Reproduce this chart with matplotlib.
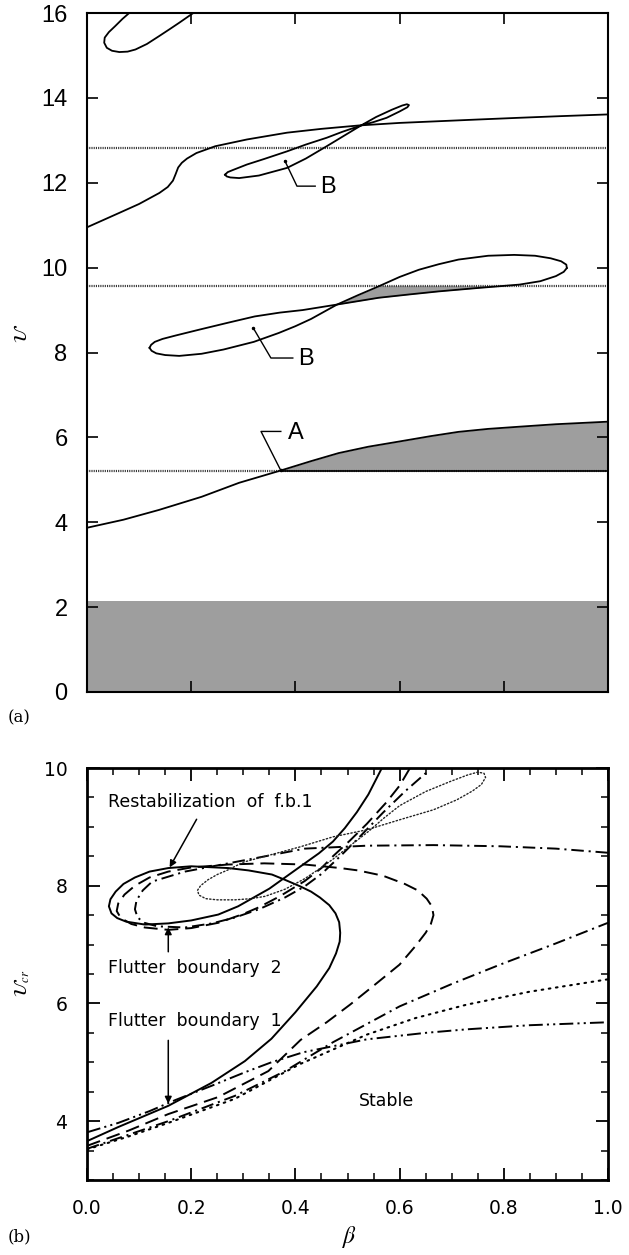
import numpy as np
import matplotlib
matplotlib.use("Agg")
import matplotlib.pyplot as plt

plt.rcParams['lines.scale_dashes'] = False
plt.rcParams['mathtext.fontset'] = 'stix'

# ---------------- panel (a) data ----------------
# top-left closed loop
loop_top_x = [0.081, 0.068, 0.054, 0.042, 0.034, 0.033, 0.038, 0.048, 0.062, 0.078, 0.093, 0.115,
              0.139, 0.16, 0.177, 0.204]
loop_top_y = [16.0, 15.86, 15.69, 15.55, 15.42, 15.3, 15.18, 15.11, 15.08, 15.09, 15.14, 15.27,
              15.46, 15.63, 15.77, 16.0]

# main rising curve from beta = 0
main_x = [0.0, 0.062, 0.1, 0.139, 0.155, 0.165, 0.17, 0.175, 0.182, 0.192, 0.21, 0.246, 0.307,
          0.384, 0.45, 0.522, 0.6, 0.675, 0.75, 0.828, 0.91, 1.0]
main_y = [10.95, 11.29, 11.5, 11.76, 11.9, 12.05, 12.2, 12.36, 12.47, 12.57, 12.7, 12.86, 13.02,
          13.18, 13.27, 13.35, 13.41, 13.45, 13.49, 13.53, 13.57, 13.61]

# upper "B" loop (figure-eight)
loopB1_x = [0.265, 0.268, 0.275, 0.292, 0.33, 0.384, 0.42, 0.46, 0.495, 0.526, 0.555, 0.585, 0.605,
            0.614, 0.618, 0.615, 0.6, 0.575, 0.55, 0.526, 0.49, 0.46, 0.42, 0.384, 0.34, 0.307,
            0.28, 0.27, 0.265]
loopB1_y = [12.19, 12.15, 12.125, 12.11, 12.17, 12.35, 12.57, 12.86, 13.12, 13.35, 13.55, 13.72, 13.82,
            13.85, 13.83, 13.78, 13.68, 13.53, 13.43, 13.35, 13.2, 13.06, 12.9, 12.74, 12.56, 12.43,
            12.3, 12.25, 12.19]

# lower "B" loop, two branches from left tip to right tip
loopB2_lo_x = [0.12, 0.123, 0.13, 0.145, 0.17, 0.216, 0.27, 0.322, 0.37, 0.414, 0.48, 0.56, 0.62,
               0.675, 0.75, 0.83, 0.87, 0.9, 0.915, 0.921]
loopB2_lo_y = [8.11, 8.18, 8.25, 8.32, 8.4, 8.54, 8.7, 8.85, 8.94, 9.0, 9.13, 9.29, 9.37,
               9.44, 9.52, 9.6, 9.68, 9.8, 9.9, 9.99]
loopB2_hi_x = [0.12, 0.124, 0.133, 0.15, 0.177, 0.22, 0.262, 0.32, 0.368, 0.4, 0.43, 0.48, 0.52,
               0.56, 0.6, 0.637, 0.675, 0.713, 0.77, 0.82, 0.86, 0.89, 0.91, 0.92, 0.921]
loopB2_hi_y = [8.11, 8.04, 7.98, 7.94, 7.92, 7.97, 8.07, 8.25, 8.46, 8.62, 8.79, 9.13, 9.35,
               9.56, 9.78, 9.95, 10.08, 10.19, 10.28, 10.3, 10.28, 10.22, 10.15, 10.07, 9.99]

# lower curve through point A
curveA_x = [0.0, 0.07, 0.138, 0.22, 0.292, 0.372, 0.43, 0.483, 0.54, 0.598, 0.66, 0.713, 0.77, 0.828, 0.9, 1.0]
curveA_y = [3.87, 4.06, 4.29, 4.6, 4.93, 5.22, 5.44, 5.63, 5.78, 5.9, 6.03, 6.13, 6.2, 6.25, 6.31, 6.37]

h_lines = [12.83, 9.575, 5.21]
band_top = 2.15
pointA_x = 0.372

# ---------------- panel (b) data ----------------
solid_x = [0.0, 0.06, 0.156, 0.239, 0.303, 0.354, 0.4, 0.441, 0.465, 0.478, 0.485, 0.486, 0.484,
           0.477, 0.465, 0.447, 0.43, 0.409, 0.38, 0.355, 0.31, 0.271, 0.2, 0.156, 0.12, 0.092,
           0.07, 0.055, 0.045, 0.042, 0.047, 0.058, 0.075, 0.111, 0.156, 0.2, 0.252, 0.29, 0.316,
           0.35, 0.38, 0.418, 0.445, 0.472, 0.495, 0.518, 0.54, 0.566]
solid_y = [3.66, 3.9, 4.26, 4.65, 5.02, 5.4, 5.85, 6.29, 6.6, 6.85, 7.05, 7.2, 7.38,
           7.53, 7.67, 7.8, 7.9, 7.99, 8.1, 8.19, 8.26, 8.3, 8.33, 8.3, 8.24, 8.14,
           8.03, 7.9, 7.77, 7.65, 7.53, 7.45, 7.39, 7.34, 7.36, 7.41, 7.51, 7.65, 7.78,
           7.95, 8.14, 8.38, 8.55, 8.75, 8.98, 9.25, 9.55, 10.0]

dash_x = [0.0, 0.08, 0.156, 0.252, 0.348, 0.41, 0.46, 0.505, 0.55, 0.6, 0.63, 0.65, 0.66, 0.665,
          0.662, 0.652, 0.635, 0.61, 0.568, 0.52, 0.486, 0.418, 0.34, 0.271, 0.2, 0.156, 0.12,
          0.092, 0.072, 0.06, 0.057, 0.065, 0.085, 0.111, 0.156, 0.2, 0.252, 0.3, 0.329, 0.37,
          0.418, 0.45, 0.472, 0.505, 0.537, 0.575, 0.6, 0.62]
dash_y = [3.58, 3.84, 4.12, 4.41, 4.85, 5.38, 5.68, 5.98, 6.3, 6.66, 6.97, 7.2, 7.35, 7.5,
          7.65, 7.78, 7.92, 8.03, 8.17, 8.26, 8.3, 8.36, 8.38, 8.36, 8.31, 8.24, 8.14,
          8.0, 7.85, 7.7, 7.57, 7.45, 7.35, 7.29, 7.25, 7.28, 7.37, 7.52, 7.63, 7.82,
          8.08, 8.3, 8.5, 8.77, 9.05, 9.42, 9.7, 10.0]

dd_lo_x = [0.0, 0.08, 0.156, 0.284, 0.38, 0.472, 0.6, 0.7, 0.793, 0.9, 1.0]
dd_lo_y = [3.53, 3.77, 4.0, 4.43, 4.85, 5.34, 5.95, 6.33, 6.66, 7.02, 7.37]
dd_hi_x = [1.0, 0.9, 0.793, 0.665, 0.537, 0.418, 0.342, 0.265, 0.188, 0.125, 0.107, 0.095, 0.092,
           0.097, 0.11, 0.135, 0.188, 0.24, 0.284, 0.33, 0.38, 0.418, 0.45, 0.486, 0.52, 0.568,
           0.61, 0.655]
dd_hi_y = [8.56, 8.63, 8.67, 8.69, 8.68, 8.63, 8.5, 8.37, 8.24, 8.07, 7.92, 7.75, 7.6,
           7.46, 7.37, 7.31, 7.29, 7.36, 7.46, 7.6, 7.8, 7.99, 8.2, 8.5, 8.8, 9.24,
           9.6, 9.95]

ddd_x = [0.0, 0.06, 0.12, 0.17, 0.239, 0.303, 0.354, 0.415, 0.537, 0.65, 0.729, 0.85, 1.0]
ddd_y = [3.81, 3.97, 4.17, 4.36, 4.6, 4.83, 5.0, 5.17, 5.39, 5.5, 5.56, 5.63, 5.68]

dot_lo_x = [0.0, 0.08, 0.156, 0.284, 0.409, 0.537, 0.63, 0.729, 0.85, 1.0]
dot_lo_y = [3.52, 3.74, 3.97, 4.38, 4.97, 5.47, 5.75, 5.98, 6.2, 6.41]
dot_hi_x = [0.271, 0.25, 0.232, 0.218, 0.212, 0.215, 0.228, 0.25, 0.284, 0.315, 0.342, 0.38, 0.418,
            0.445, 0.472, 0.505, 0.54, 0.57, 0.6, 0.65, 0.697, 0.73, 0.75, 0.762, 0.765, 0.757,
            0.74, 0.71, 0.665, 0.6, 0.537, 0.472, 0.409, 0.342, 0.3, 0.271]
dot_hi_y = [8.27, 8.19, 8.1, 8.0, 7.92, 7.84, 7.78, 7.76, 7.76, 7.78, 7.82, 7.94, 8.12,
            8.28, 8.45, 8.68, 8.92, 9.15, 9.36, 9.6, 9.77, 9.88, 9.93, 9.91, 9.84, 9.72,
            9.61, 9.46, 9.29, 9.12, 8.95, 8.83, 8.66, 8.5, 8.4, 8.27]

GRAY = '#9e9e9e'

fig = plt.figure(figsize=(6.29, 12.55), dpi=100)

# ================= panel (a) =================
ax = fig.add_axes([87/629, 1-692/1255, 521/629, 679/1255])
ax.set_xlim(0, 1)
ax.set_ylim(0, 16)

ax.axhspan(0, band_top, color=GRAY, lw=0)

for h in h_lines:
    ax.plot([0, 1], [h, h], color='#333333', lw=1.6, linestyle=(0, (0.8, 0.8)))

cA_x = np.array(curveA_x)
cA_y = np.array(curveA_y)
ax.fill_between(cA_x, h_lines[2], cA_y, where=cA_x >= pointA_x, color=GRAY, lw=0)
ax.plot([pointA_x, 1], [h_lines[2], h_lines[2]], color='black', lw=1.2)

# shaded sliver inside lower B loop
gx = np.linspace(0.48, 0.84, 80)
lo = np.interp(gx, loopB2_lo_x, loopB2_lo_y)
hi = np.minimum(np.interp(gx, loopB2_hi_x, loopB2_hi_y), h_lines[1])
ax.fill_between(gx, lo, hi, where=hi >= lo, interpolate=True, color=GRAY, lw=0)

kw = dict(color='black', lw=1.3)
ax.plot(loop_top_x, loop_top_y, **kw)
ax.plot(main_x, main_y, **kw)
ax.plot(loopB1_x, loopB1_y, **kw)
ax.plot(loopB2_lo_x, loopB2_lo_y, **kw)
ax.plot(loopB2_hi_x, loopB2_hi_y, **kw)
ax.plot(curveA_x, curveA_y, **kw)

lab_font = dict(family='Liberation Sans', fontsize=17)
# B labels
ax.plot([0.38, 0.403, 0.438], [12.51, 11.92, 11.92], color='black', lw=1.0)
ax.plot([0.38], [12.51], 'k.', ms=3)
ax.text(0.447, 11.9, 'B', va='center', ha='left', **lab_font)
ax.plot([0.319, 0.353, 0.395], [8.58, 7.87, 7.87], color='black', lw=1.0)
ax.plot([0.319], [8.58], 'k.', ms=3)
ax.text(0.405, 7.85, 'B', va='center', ha='left', **lab_font)
# A label
ax.plot([pointA_x, 0.334, 0.372], [5.22, 6.14, 6.14], color='black', lw=1.0)
ax.plot([pointA_x], [5.22], 'k.', ms=3)
ax.text(0.385, 6.1, 'A', va='center', ha='left', **lab_font)

ax.set_xticks(np.arange(0, 1.01, 0.2))
ax.set_xticklabels([])
ax.set_yticks(np.arange(0, 17, 2))
ax.tick_params(direction='in', length=8, width=1.2, top=True, right=True, pad=14)
for t in ax.get_yticklabels():
    t.set_family('Liberation Sans')
    t.set_fontsize(17)
for s in ax.spines.values():
    s.set_linewidth(1.5)

fig.text(22/629, 1-333/1255, r'$\mathcal{U}$', rotation=90, fontsize=13, ha='center', va='center')
fig.text(8/629, 1-718/1255, '(a)', family='DejaVu Serif', fontsize=12, ha='left', va='center')

# ================= panel (b) =================
bx = fig.add_axes([87/629, 1-1180/1255, 521/629, 412/1255])
bx.set_xlim(0, 1)
bx.set_ylim(3, 10)

lw = 1.4
bx.plot(solid_x, solid_y, color='black', lw=lw)
bx.plot(dash_x, dash_y, color='black', lw=lw, dashes=(10, 5))
bx.plot(dd_lo_x, dd_lo_y, color='black', lw=lw, dashes=(9, 3.5, 1.5, 3.5))
bx.plot(dd_hi_x, dd_hi_y, color='black', lw=lw, dashes=(9, 3.5, 1.5, 3.5))
bx.plot(ddd_x, ddd_y, color='black', lw=lw, dashes=(10, 3, 1.5, 3, 1.5, 3))
bx.plot(dot_lo_x, dot_lo_y, color='black', lw=1.5, dashes=(1.2, 4), dash_capstyle='round')
bx.plot(dot_hi_x, dot_hi_y, color='#222222', lw=1.0, dashes=(1.0, 1.6), dash_capstyle='round')

tfont = dict(family='DejaVu Sans', fontsize=12.5)
bx.text(0.04, 9.43, 'Restabilization  of  f.b.1', va='center', ha='left', **tfont)
bx.annotate('', xy=(0.156, 8.27), xytext=(0.213, 9.17),
            arrowprops=dict(arrowstyle='-|>', color='black', lw=1.1, mutation_scale=10))
bx.text(0.04, 6.61, 'Flutter  boundary  2', va='center', ha='left', **tfont)
bx.annotate('', xy=(0.156, 7.34), xytext=(0.156, 6.83),
            arrowprops=dict(arrowstyle='-|>', color='black', lw=1.1, mutation_scale=10))
bx.text(0.04, 5.7, 'Flutter  boundary  1', va='center', ha='left', **tfont)
bx.annotate('', xy=(0.156, 4.25), xytext=(0.156, 5.42),
            arrowprops=dict(arrowstyle='-|>', color='black', lw=1.1, mutation_scale=10))
bx.text(0.575, 4.34, 'Stable', va='center', ha='center', **tfont)

bx.set_xticks(np.arange(0, 1.01, 0.2))
bx.set_xticks(np.arange(0, 1.001, 0.05), minor=True)
bx.set_yticks([4, 6, 8, 10])
bx.set_yticks(np.arange(3, 10.01, 0.5), minor=True)
bx.set_xticklabels(['0.0', '0.2', '0.4', '0.6', '0.8', '1.0'])
bx.tick_params(which='major', direction='in', length=9, width=1.3, top=True, right=True,
               pad=14, labelsize=13.5)
bx.tick_params(which='minor', direction='in', length=5, width=1.1, top=True, right=True)
for s in bx.spines.values():
    s.set_linewidth(2.0)

fig.text(22/629, 1-983/1255, r'$\mathcal{U}_{cr}$', rotation=90, fontsize=13, ha='center', va='center')
fig.text(350/629, 1-1237/1255, r'$\beta$', fontsize=17, ha='center', va='center')
fig.text(8/629, 1-1237/1255, '(b)', family='DejaVu Serif', fontsize=12, ha='left', va='center')

fig.savefig('out.png', dpi=100)
